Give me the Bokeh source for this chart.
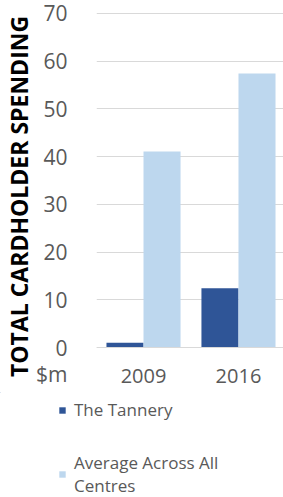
from bokeh.plotting import figure
from bokeh.layouts import column
from bokeh.models import Range1d, FixedTicker, Legend, LegendItem, ColumnDataSource
from bokeh.transform import dodge
from bokeh.embed import file_html
from bokeh.resources import INLINE

years = ["2009", "2016"]
tannery = [1.0, 12.4]
average = [41.1, 57.4]
y_ticks = [0, 10, 20, 30, 40, 50, 60, 70]
series_names = ["The Tannery", "Average Across All\nCentres"]
y_title = "TOTAL CARDHOLDER SPENDING"
unit_label = "$m"

# layout constants
UNIT_POS = -5.45
DARK = "#2F5597"
LIGHT = "#BDD7EE"
GRAY = "#595959"
GRID = "#D9D9D9"
FONT = "Open Sans"

src = ColumnDataSource(dict(x=list(range(len(years))), tannery=tannery, average=average))

p = figure(width=283, height=392, output_backend="svg", toolbar_location=None,
           x_range=Range1d(-0.495, 1.474), y_range=Range1d(-9.43, 72.72),
           min_border_left=96, min_border_right=0, min_border_top=0, min_border_bottom=0)
p.outline_line_color = None

r1 = p.vbar(x=dodge("x", -0.195), top="tannery", width=0.39, source=src,
            fill_color=DARK, line_color=None)
r2 = p.vbar(x=dodge("x", 0.195), top="average", width=0.39, source=src,
            fill_color=LIGHT, line_color=None)

# x axis at value 0
p.xaxis.fixed_location = 0
p.xaxis.ticker = FixedTicker(ticks=list(range(len(years))))
p.xaxis.major_label_overrides = {i: y for i, y in enumerate(years)}
p.xaxis.major_tick_line_color = None
p.xaxis.minor_tick_line_color = None
p.xaxis.axis_line_color = GRID
p.xaxis.major_label_text_font = FONT
p.xaxis.major_label_text_font_size = "20px"
p.xaxis.major_label_text_color = GRAY
p.xaxis.major_label_standoff = 15

# y axis (with the unit shown as an extra tick label below 0)
p.yaxis.ticker = FixedTicker(ticks=y_ticks + [UNIT_POS])
p.yaxis.major_label_overrides = {UNIT_POS: unit_label}
p.yaxis.major_tick_line_color = None
p.yaxis.minor_tick_line_color = None
p.yaxis.axis_line_color = None
p.yaxis.major_label_text_font = FONT
p.yaxis.major_label_text_font_size = "21px"
p.yaxis.major_label_text_color = GRAY
p.yaxis.major_label_standoff = 23
p.yaxis.axis_label = y_title
p.yaxis.axis_label_text_font = FONT
p.yaxis.axis_label_text_font_style = "bold"
p.yaxis.axis_label_text_font_size = "23px"
p.yaxis.axis_label_text_color = "black"
p.yaxis.axis_label_standoff = -2

p.xgrid.grid_line_color = None
p.ygrid.ticker = FixedTicker(ticks=y_ticks)
p.ygrid.grid_line_color = GRID
p.ygrid.grid_line_width = 1

# legend panel (its bars share the data but have no size and sit outside the view)
q = figure(width=283, height=105, output_backend="svg", toolbar_location=None,
           x_axis_location=None, y_axis_location=None,
           x_range=Range1d(10, 11), y_range=Range1d(-2, -1),
           min_border_left=0, min_border_right=0, min_border_top=0, min_border_bottom=0)
q.outline_line_color = None
q.grid.visible = False
l1 = q.vbar(x="x", top="tannery", width=0, source=src, fill_color=DARK, line_color=None)
l2 = q.vbar(x="x", top="average", width=0, source=src, fill_color=LIGHT, line_color=None)

# let the legend panel keep its own frame (no alignment with the chart's frame)
try:
    p.frame_align = False
    q.frame_align = False
    legend_x = 58
except Exception:
    legend_x = 0

legend = Legend(items=[LegendItem(label=series_names[0], renderers=[l1]),
                       LegendItem(label=series_names[1], renderers=[l2])],
                location=(legend_x, 0), orientation="vertical")
legend.border_line_color = None
legend.background_fill_alpha = 0
legend.label_text_font = FONT
legend.label_text_font_size = "17px"
legend.label_text_color = GRAY
legend.glyph_width = 8
legend.glyph_height = 8
legend.label_standoff = 8
legend.spacing = 30
legend.padding = 0
legend.margin = 0
q.add_layout(legend, "center")

layout = column(p, q, spacing=0)
open("out.html", "w").write(file_html(layout, INLINE))
